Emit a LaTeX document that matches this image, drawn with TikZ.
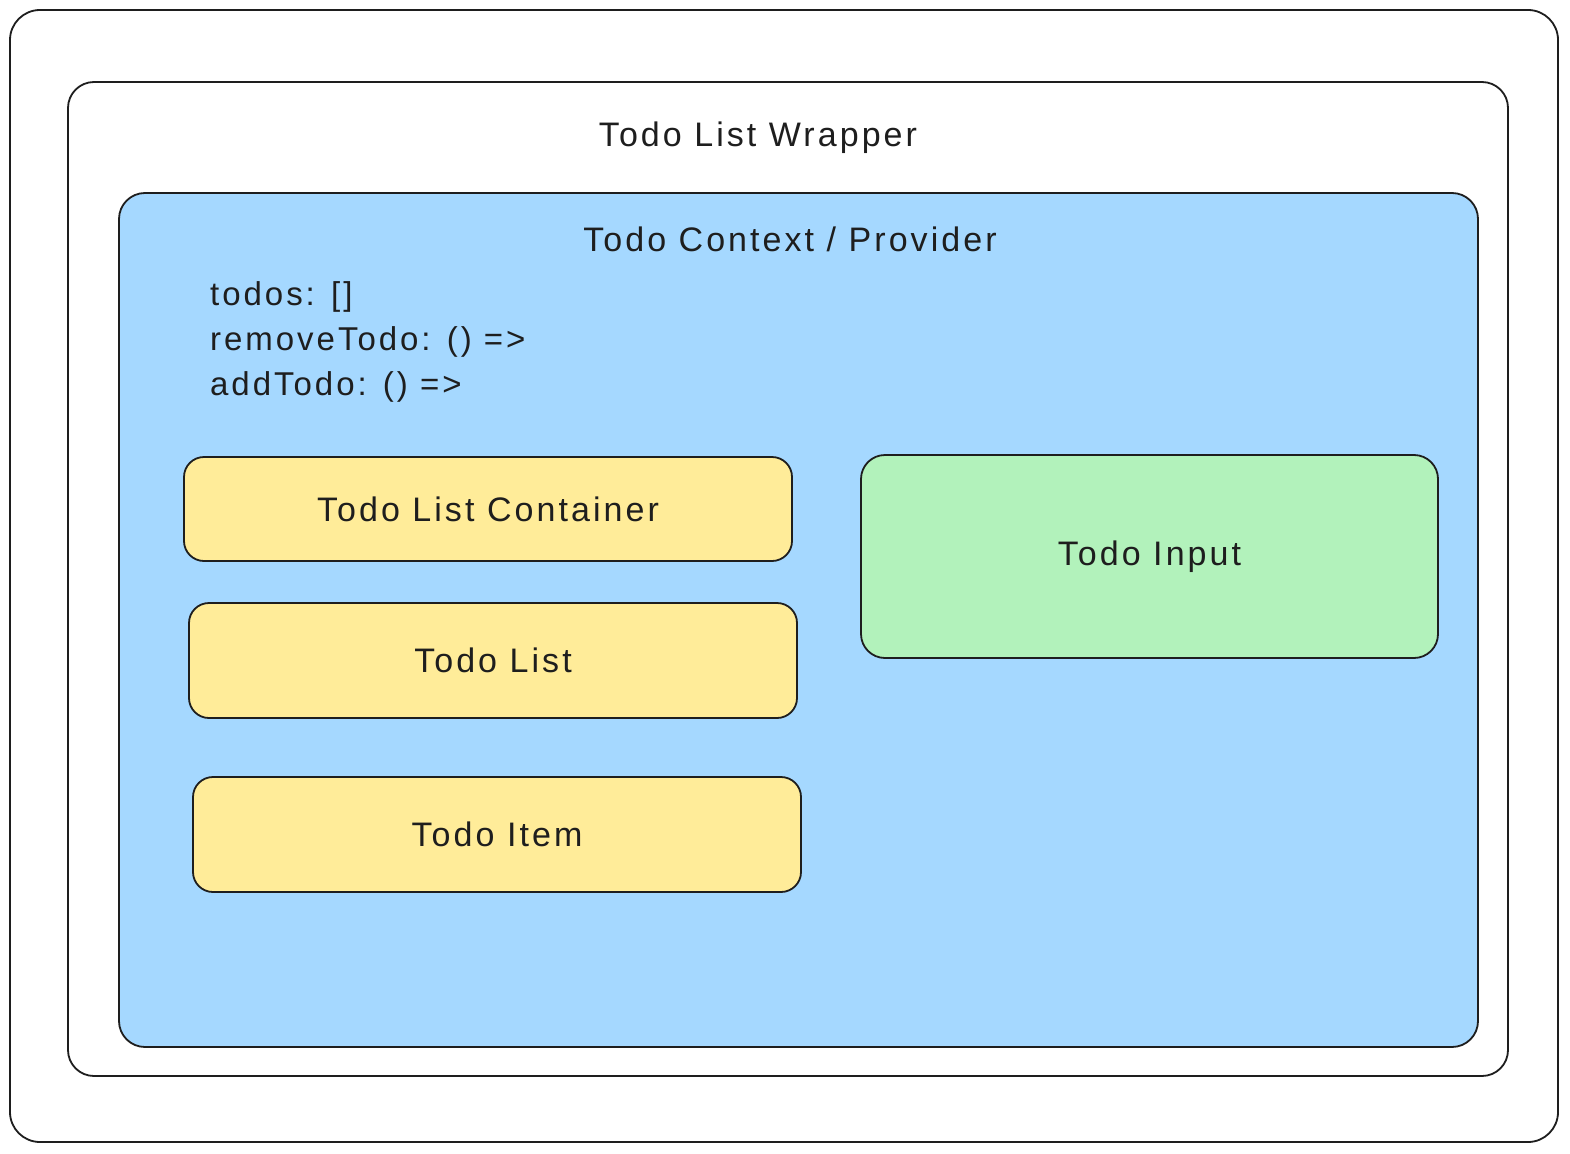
\documentclass[tikz,border=0pt]{standalone}
\usepackage{fontspec}
\setmainfont{Liberation Sans}[LetterSpace=9]
\definecolor{ink}{HTML}{1E1E1E}
\definecolor{provblue}{HTML}{A5D8FF}
\definecolor{itemyellow}{HTML}{FFEC99}
\definecolor{inputgreen}{HTML}{B2F2BB}
\tikzset{
  frame/.style={draw=ink, line width=1.8pt, rounded corners=#1, inner sep=0pt, outer sep=0pt},
  frame/.default=22pt,
  lbl/.style={font=\fontsize{34}{40}\selectfont, text=ink},
  codelbl/.style={font=\fontsize{33}{45}\selectfont, text=ink, align=left, anchor=north west, inner sep=0pt},
}
\begin{document}
\begin{tikzpicture}[x=1pt,y=-1pt]
\useasboundingbox[fill=white] (0,0) rectangle (1570,1153);
% outer
\node[frame=30pt, fill=white, minimum width=1548pt, minimum height=1132pt] (outer) at (784,576) {};
% wrapper
\node[frame=26pt, fill=white, minimum width=1440pt, minimum height=994pt] (wrapper) at (788,579) {};
\node[lbl] (wraptitle) at (758,138) {Todo List Wrapper};
% provider
\node[frame=26pt, fill=provblue, minimum width=1359pt, minimum height=854pt] (provider) at (798.5,620) {};
\node[lbl] (provtitle) at (790,239) {Todo Context / Provider};
\node[codelbl] (code) at (210,281) {todos: []\\removeTodo: () =>\\addTodo: () =>};
% children
\node[frame=20pt, fill=itemyellow, minimum width=608pt, minimum height=104pt, lbl] (container) at (488,509) {Todo List Container};
\node[frame=20pt, fill=itemyellow, minimum width=608pt, minimum height=115pt, lbl] (list) at (493,660.5) {Todo List};
\node[frame=20pt, fill=itemyellow, minimum width=608pt, minimum height=115pt, lbl] (item) at (497,834.5) {Todo Item};
\node[frame=24pt, fill=inputgreen, minimum width=577pt, minimum height=203pt, lbl] (input) at (1149.5,556.5) {Todo Input};
\end{tikzpicture}
\end{document}
